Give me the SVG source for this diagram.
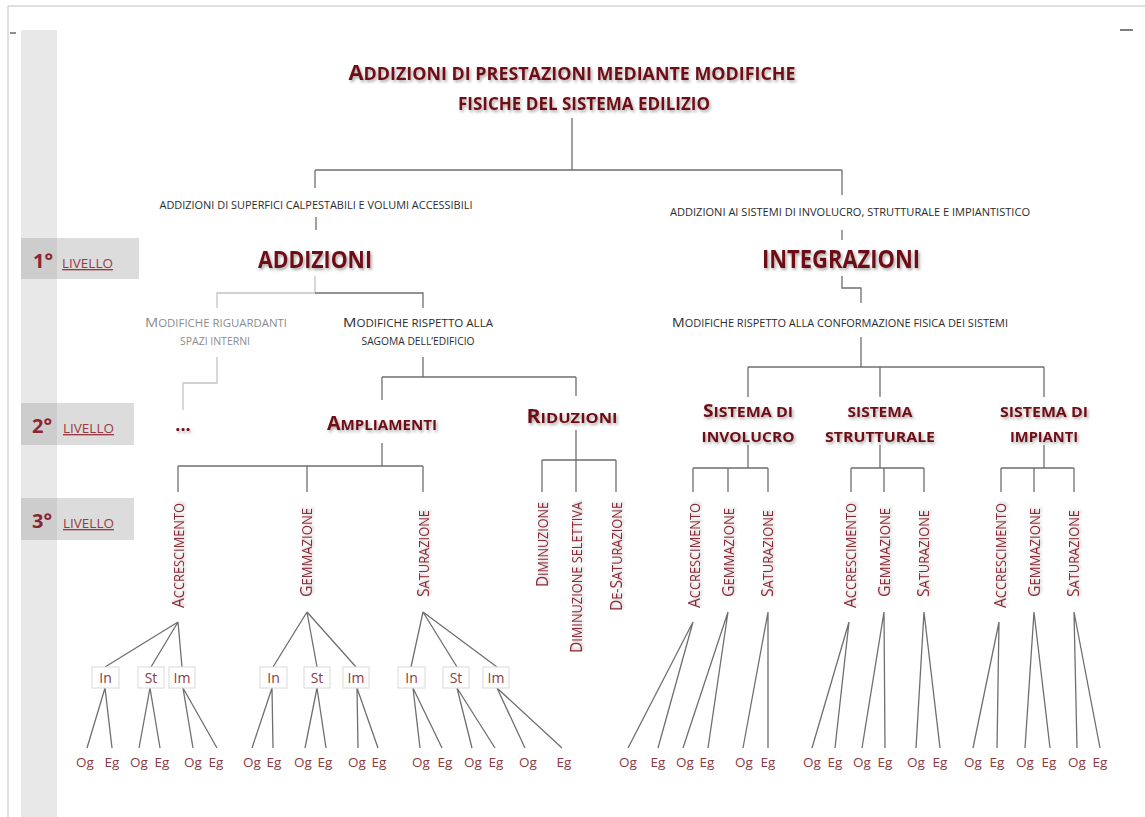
<svg xmlns="http://www.w3.org/2000/svg" width="1145" height="817" viewBox="0 0 1145 817">
  <style>
    text { font-family: "Open Sans", "Liberation Sans", sans-serif; }
    .hd { font-weight: 700; fill: #6e1117; filter: url(#shadow); }
    .sm { font-size: 10.5px; fill: #2b2b2b; }
    .smg { font-size: 10.5px; fill: #8c8c8c; }
    .vl { font-size: 14px; fill: #8a2a35; filter: url(#shadow2); }
    .big { font-size: 17px; }
    .leaf { font-size: 13.5px; fill: #8b3a42; text-anchor: middle; }
    .tag { font-size: 14px; fill: #8b3a42; text-anchor: middle; }
    .box { fill: #ffffff; stroke: #d9d9d9; stroke-width: 1; }
    .lvl { font-weight: 700; font-size: 20px; fill: #8b2630; }
    .lvt { font-size: 13.5px; fill: #9b3a44; text-decoration: underline; }
    .ln { fill: none; stroke: #6f6f6f; stroke-width: 1.3; }
    .lnl { fill: none; stroke: #c4c4c4; stroke-width: 1.3; }
  </style>
  <defs>
    <filter id="shadow" x="-10%" y="-30%" width="120%" height="170%">
      <feDropShadow dx="1.5" dy="2" stdDeviation="1.6" flood-color="#000" flood-opacity="0.35"/>
    </filter>
    <filter id="shadow2" x="-40%" y="-10%" width="180%" height="120%">
      <feDropShadow dx="1.5" dy="1.5" stdDeviation="1.2" flood-color="#000" flood-opacity="0.25"/>
    </filter>
  </defs>

  <!-- page frame -->
  <rect x="0" y="0" width="1145" height="817" fill="#ffffff"/>
  <line x1="8" y1="6" x2="1145" y2="6" stroke="#d4d4d4" stroke-width="1.5"/>
  <line x1="8" y1="6" x2="8" y2="817" stroke="#d4d4d4" stroke-width="1.5"/>
  <line x1="10" y1="33" x2="16" y2="33" stroke="#444" stroke-width="1.2"/>
  <line x1="1120" y1="30" x2="1133" y2="30" stroke="#555" stroke-width="1.5"/>

  <!-- level column -->
  <g id="levels">
    <rect x="21" y="30" width="36" height="787" fill="#e8e8e8"/>
    <rect x="21" y="238" width="118" height="41" fill="#dcdcdc"/>
    <rect x="21" y="238" width="36" height="41" fill="#cdcdcd"/>
    <text class="lvl" x="33" y="268">1°</text>
    <text class="lvt" x="62" y="268">LIVELLO</text>
    <rect x="21" y="403" width="113" height="42" fill="#dcdcdc"/>
    <rect x="21" y="403" width="36" height="42" fill="#cdcdcd"/>
    <text class="lvl" x="32" y="433">2°</text>
    <text class="lvt" x="63" y="433">LIVELLO</text>
    <rect x="21" y="498" width="113" height="42" fill="#dcdcdc"/>
    <rect x="21" y="498" width="36" height="42" fill="#cdcdcd"/>
    <text class="lvl" x="32" y="528">3°</text>
    <text class="lvt" x="63" y="528">LIVELLO</text>
  </g>

  <!-- connectors -->
  <g id="connectors">
    <path class="ln" d="M572 118 V170 M315 170 H842 M315 170 V188 M842 170 V195"/>
    <path class="ln" d="M316 217 V230 M842 230 V240"/>
    <path class="lnl" d="M315 276 V293 H217 V308 M217 357 V383 H183 V410"/>
    <path class="ln" d="M315 293 H423 V308 M423 357 V377 M382 377 H576 M382 377 V400 M576 377 V396"/>
    <path class="ln" d="M842 276 V288 H861 V303 M861 337 V367 M748 367 H1044 M748 367 V397 M880 367 V397 M1044 367 V397"/>
    <path class="ln" d="M382 443 V466 M178 466 H423 M178 466 V492 M307 466 V492 M423 466 V492"/>
    <path class="ln" d="M576 430 V492 M542 460 H616 M542 460 V492 M616 460 V492"/>
    <path class="ln" d="M748 445 V468 M693 468 H768 M693 468 V492 M728 468 V492 M768 468 V492"/>
    <path class="ln" d="M880 445 V468 M851 468 H924 M851 468 V492 M884 468 V492 M924 468 V492"/>
    <path class="ln" d="M1044 445 V468 M1001 468 H1074 M1001 468 V492 M1034 468 V492 M1074 468 V492"/>
    <!-- ampliamenti: apex to In/St/Im -->
    <path class="ln" d="M178 622 L105 667 M178 622 L151 667 M178 622 L182 667"/>
    <path class="ln" d="M307 612 L273 667 M307 612 L317 667 M307 612 L356 667"/>
    <path class="ln" d="M423 612 L411 667 M423 612 L457 667 M423 612 L497 667"/>
    <!-- In/St/Im to Og/Eg -->
    <path class="ln" d="M105 688 L87 748 M105 688 L112 748 M150 688 L139 748 M150 688 L160 748 M183 688 L193 748 M183 688 L217 748"/>
    <path class="ln" d="M272 688 L252 748 M272 688 L273 748 M317 688 L305 748 M317 688 L326 748 M357 688 L358 748 M357 688 L378 748"/>
    <path class="ln" d="M413 688 L420 748 M413 688 L442 748 M457 688 L472 748 M457 688 L495 748 M497 688 L525 748 M497 688 L562 748"/>
    <!-- integrazioni: apex to Og/Eg -->
    <path class="ln" d="M693 622 L628 748 M693 622 L658 748 M728 612 L683 748 M728 612 L708 748 M768 612 L743 748 M768 612 L768 748"/>
    <path class="ln" d="M849 622 L812 748 M849 622 L835 748 M884 612 L862 748 M884 612 L885 748 M924 612 L916 748 M924 612 L940 748"/>
    <path class="ln" d="M999 622 L973 748 M999 622 L997 748 M1034 612 L1025 748 M1034 612 L1050 748 M1074 612 L1077 748 M1074 612 L1100 748"/>
  </g>

  <!-- root -->
  <g id="node-root">
    <text class="hd" x="572" y="80" text-anchor="middle" textLength="447" lengthAdjust="spacingAndGlyphs" font-size="18"><tspan font-size="22">A</tspan>DDIZIONI DI PRESTAZIONI MEDIANTE MODIFICHE</text>
    <text class="hd" x="584" y="110" text-anchor="middle" textLength="252" lengthAdjust="spacingAndGlyphs" font-size="18">FISICHE DEL SISTEMA EDILIZIO</text>
  </g>

  <!-- level 1 -->
  <g id="node-addizioni">
    <text class="sm" x="316" y="209" text-anchor="middle" textLength="313" lengthAdjust="spacingAndGlyphs">ADDIZIONI DI SUPERFICI CALPESTABILI E VOLUMI ACCESSIBILI</text>
    <text class="hd" x="315" y="268" text-anchor="middle" textLength="114" lengthAdjust="spacingAndGlyphs" font-size="23">ADDIZIONI</text>
  </g>
  <g id="node-integrazioni">
    <text class="sm" x="850" y="216" text-anchor="middle" textLength="360" lengthAdjust="spacingAndGlyphs">ADDIZIONI AI SISTEMI DI INVOLUCRO, STRUTTURALE E IMPIANTISTICO</text>
    <text class="hd" x="841" y="268" text-anchor="middle" textLength="158" lengthAdjust="spacingAndGlyphs" font-size="25">INTEGRAZIONI</text>
  </g>

  <!-- modifications -->
  <g id="node-spazi-interni">
    <text class="smg" x="216" y="327" text-anchor="middle" textLength="142" lengthAdjust="spacingAndGlyphs"><tspan font-size="13.5">M</tspan>ODIFICHE RIGUARDANTI</text>
    <text class="smg" x="215" y="345" text-anchor="middle" textLength="70" lengthAdjust="spacingAndGlyphs">SPAZI INTERNI</text>
  </g>
  <g id="node-sagoma">
    <text class="sm" x="418" y="327" text-anchor="middle" textLength="150" lengthAdjust="spacingAndGlyphs"><tspan font-size="13.5">M</tspan>ODIFICHE RISPETTO ALLA</text>
    <text class="sm" x="418" y="345" text-anchor="middle" textLength="113" lengthAdjust="spacingAndGlyphs">SAGOMA DELL’EDIFICIO</text>
  </g>
  <g id="node-conformazione">
    <text class="sm" x="840" y="327" text-anchor="middle" textLength="336" lengthAdjust="spacingAndGlyphs"><tspan font-size="13.5">M</tspan>ODIFICHE RISPETTO ALLA CONFORMAZIONE FISICA DEI SISTEMI</text>
  </g>

  <!-- level 2 -->
  <g id="node-ellipsis">
    <text class="hd" x="183" y="431" text-anchor="middle" font-size="18">...</text>
  </g>
  <g id="node-ampliamenti">
    <text class="hd" x="382" y="430" text-anchor="middle" textLength="110" lengthAdjust="spacingAndGlyphs" font-size="15"><tspan font-size="19.5">A</tspan>MPLIAMENTI</text>
  </g>
  <g id="node-riduzioni">
    <text class="hd" x="572" y="423" text-anchor="middle" textLength="91" lengthAdjust="spacingAndGlyphs" font-size="15"><tspan font-size="19.5">R</tspan>IDUZIONI</text>
  </g>
  <g id="node-involucro">
    <text class="hd" x="748" y="417" text-anchor="middle" textLength="90" lengthAdjust="spacingAndGlyphs" font-size="15"><tspan font-size="18">S</tspan>ISTEMA DI</text>
    <text class="hd" x="748" y="442" text-anchor="middle" textLength="93" lengthAdjust="spacingAndGlyphs" font-size="15">INVOLUCRO</text>
  </g>
  <g id="node-strutturale">
    <text class="hd" x="880" y="417" text-anchor="middle" textLength="65" lengthAdjust="spacingAndGlyphs" font-size="15">SISTEMA</text>
    <text class="hd" x="880" y="442" text-anchor="middle" textLength="110" lengthAdjust="spacingAndGlyphs" font-size="15">STRUTTURALE</text>
  </g>
  <g id="node-impianti">
    <text class="hd" x="1044" y="417" text-anchor="middle" textLength="88" lengthAdjust="spacingAndGlyphs" font-size="15">SISTEMA DI</text>
    <text class="hd" x="1044" y="442" text-anchor="middle" textLength="68" lengthAdjust="spacingAndGlyphs" font-size="15">IMPIANTI</text>
  </g>

  <!-- level 3: vertical labels -->
  <g id="node-l3-accrescimento-a"><text class="vl" transform="translate(184 608) rotate(-90)" textLength="105" lengthAdjust="spacingAndGlyphs"><tspan class="big">A</tspan>CCRESCIMENTO</text></g>
  <g id="node-l3-gemmazione-a"><text class="vl" transform="translate(312 597) rotate(-90)" textLength="89" lengthAdjust="spacingAndGlyphs"><tspan class="big">G</tspan>EMMAZIONE</text></g>
  <g id="node-l3-saturazione-a"><text class="vl" transform="translate(429 597) rotate(-90)" textLength="87" lengthAdjust="spacingAndGlyphs"><tspan class="big">S</tspan>ATURAZIONE</text></g>
  <g id="node-l3-diminuzione"><text class="vl" transform="translate(548 587) rotate(-90)" textLength="85" lengthAdjust="spacingAndGlyphs"><tspan class="big">D</tspan>IMINUZIONE</text></g>
  <g id="node-l3-diminuzione-selettiva"><text class="vl" transform="translate(582 653) rotate(-90)" textLength="151" lengthAdjust="spacingAndGlyphs"><tspan class="big">D</tspan>IMINUZIONE SELETTIVA</text></g>
  <g id="node-l3-de-saturazione"><text class="vl" transform="translate(622 611) rotate(-90)" textLength="109" lengthAdjust="spacingAndGlyphs"><tspan class="big">D</tspan>E-<tspan class="big">S</tspan>ATURAZIONE</text></g>

  <g id="node-l3-accrescimento-inv"><text class="vl" transform="translate(700 608) rotate(-90)" textLength="105" lengthAdjust="spacingAndGlyphs"><tspan class="big">A</tspan>CCRESCIMENTO</text></g>
  <g id="node-l3-gemmazione-inv"><text class="vl" transform="translate(734 597) rotate(-90)" textLength="89" lengthAdjust="spacingAndGlyphs"><tspan class="big">G</tspan>EMMAZIONE</text></g>
  <g id="node-l3-saturazione-inv"><text class="vl" transform="translate(773 597) rotate(-90)" textLength="87" lengthAdjust="spacingAndGlyphs"><tspan class="big">S</tspan>ATURAZIONE</text></g>
  <g id="node-l3-accrescimento-str"><text class="vl" transform="translate(856 608) rotate(-90)" textLength="105" lengthAdjust="spacingAndGlyphs"><tspan class="big">A</tspan>CCRESCIMENTO</text></g>
  <g id="node-l3-gemmazione-str"><text class="vl" transform="translate(890 597) rotate(-90)" textLength="89" lengthAdjust="spacingAndGlyphs"><tspan class="big">G</tspan>EMMAZIONE</text></g>
  <g id="node-l3-saturazione-str"><text class="vl" transform="translate(929 597) rotate(-90)" textLength="87" lengthAdjust="spacingAndGlyphs"><tspan class="big">S</tspan>ATURAZIONE</text></g>
  <g id="node-l3-accrescimento-imp"><text class="vl" transform="translate(1006 608) rotate(-90)" textLength="105" lengthAdjust="spacingAndGlyphs"><tspan class="big">A</tspan>CCRESCIMENTO</text></g>
  <g id="node-l3-gemmazione-imp"><text class="vl" transform="translate(1040 597) rotate(-90)" textLength="89" lengthAdjust="spacingAndGlyphs"><tspan class="big">G</tspan>EMMAZIONE</text></g>
  <g id="node-l3-saturazione-imp"><text class="vl" transform="translate(1079 597) rotate(-90)" textLength="87" lengthAdjust="spacingAndGlyphs"><tspan class="big">S</tspan>ATURAZIONE</text></g>

  <!-- In / St / Im boxes -->
  <g id="node-acc-in"><rect class="box" x="92" y="667" width="27" height="21"/><text class="tag" x="105.5" y="683">In</text></g>
  <g id="node-acc-st"><rect class="box" x="138" y="667" width="26" height="21"/><text class="tag" x="151" y="683">St</text></g>
  <g id="node-acc-im"><rect class="box" x="169" y="667" width="26" height="21"/><text class="tag" x="182" y="683">Im</text></g>
  <g id="node-gem-in"><rect class="box" x="260" y="667" width="27" height="21"/><text class="tag" x="273.5" y="683">In</text></g>
  <g id="node-gem-st"><rect class="box" x="304" y="667" width="26" height="21"/><text class="tag" x="317" y="683">St</text></g>
  <g id="node-gem-im"><rect class="box" x="343" y="667" width="26" height="21"/><text class="tag" x="356" y="683">Im</text></g>
  <g id="node-sat-in"><rect class="box" x="398" y="667" width="27" height="21"/><text class="tag" x="411.5" y="683">In</text></g>
  <g id="node-sat-st"><rect class="box" x="443" y="667" width="26" height="21"/><text class="tag" x="456" y="683">St</text></g>
  <g id="node-sat-im"><rect class="box" x="483" y="667" width="26" height="21"/><text class="tag" x="496" y="683">Im</text></g>

  <!-- Og / Eg leaves -->
  <g id="leaves-ampliamenti">
    <text class="leaf" x="85" y="767">Og</text><text class="leaf" x="112" y="767">Eg</text>
    <text class="leaf" x="139" y="767">Og</text><text class="leaf" x="162" y="767">Eg</text>
    <text class="leaf" x="193" y="767">Og</text><text class="leaf" x="216" y="767">Eg</text>
    <text class="leaf" x="252" y="767">Og</text><text class="leaf" x="274" y="767">Eg</text>
    <text class="leaf" x="303" y="767">Og</text><text class="leaf" x="325" y="767">Eg</text>
    <text class="leaf" x="357" y="767">Og</text><text class="leaf" x="379" y="767">Eg</text>
    <text class="leaf" x="421" y="767">Og</text><text class="leaf" x="445" y="767">Eg</text>
    <text class="leaf" x="473" y="767">Og</text><text class="leaf" x="496" y="767">Eg</text>
    <text class="leaf" x="528" y="767">Og</text><text class="leaf" x="564" y="767">Eg</text>
  </g>
  <g id="leaves-integrazioni">
    <text class="leaf" x="628" y="767">Og</text><text class="leaf" x="658" y="767">Eg</text>
    <text class="leaf" x="685" y="767">Og</text><text class="leaf" x="707" y="767">Eg</text>
    <text class="leaf" x="744" y="767">Og</text><text class="leaf" x="768" y="767">Eg</text>
    <text class="leaf" x="812" y="767">Og</text><text class="leaf" x="835" y="767">Eg</text>
    <text class="leaf" x="862" y="767">Og</text><text class="leaf" x="885" y="767">Eg</text>
    <text class="leaf" x="916" y="767">Og</text><text class="leaf" x="940" y="767">Eg</text>
    <text class="leaf" x="973" y="767">Og</text><text class="leaf" x="997" y="767">Eg</text>
    <text class="leaf" x="1025" y="767">Og</text><text class="leaf" x="1049" y="767">Eg</text>
    <text class="leaf" x="1077" y="767">Og</text><text class="leaf" x="1100" y="767">Eg</text>
  </g>
</svg>
